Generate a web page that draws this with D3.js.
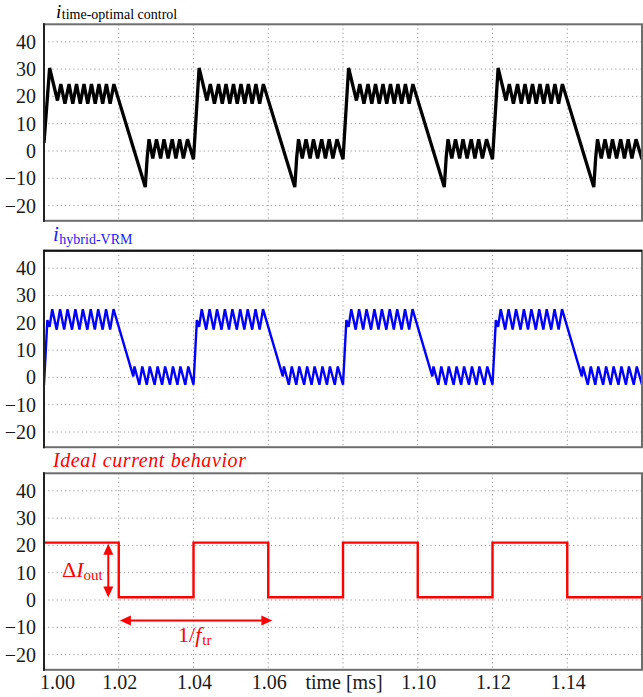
<!DOCTYPE html>
<html><head><meta charset="utf-8">
<script src="https://cdn.jsdelivr.net/npm/d3@7"></script>
<style>
html,body{margin:0;padding:0;background:#fff;}
svg{display:block;font-family:"Liberation Serif","Times New Roman",serif;}
</style></head>
<body>
<svg id="chart" width="643" height="697"></svg>
<script>
// ---------------- data ----------------
const xTicks = [1.00, 1.02, 1.04, 1.06, 1.08, 1.10, 1.12, 1.14];
const xTickLabels = ["1.00", "1.02", "1.04", "1.06", "time [ms]", "1.10", "1.12", "1.14"];
const yTicks = [-20, -10, 0, 10, 20, 30, 40];

// time-optimal control current (black)
const optT = [
1.0000,1.0015,1.0036,1.0045,1.0056,1.0067,1.0077,1.0087,1.0097,1.0107,1.0117,1.0127,1.0137,1.0147,1.0157,1.0167,1.0177,1.0187,1.0271,1.0276,1.0281,1.0291,1.0301,1.0312,1.0321,1.0332,1.0343,1.0353,1.0363,1.0373,1.0384,
1.0400,1.0415,1.0436,1.0445,1.0456,1.0467,1.0477,1.0487,1.0497,1.0507,1.0517,1.0527,1.0537,1.0547,1.0557,1.0567,1.0577,1.0587,1.0671,1.0676,1.0681,1.0691,1.0701,1.0712,1.0721,1.0732,1.0743,1.0753,1.0763,1.0773,1.0784,
1.0800,1.0815,1.0836,1.0845,1.0856,1.0867,1.0877,1.0887,1.0897,1.0907,1.0917,1.0927,1.0937,1.0947,1.0957,1.0967,1.0977,1.0987,1.1071,1.1076,1.1081,1.1091,1.1101,1.1112,1.1121,1.1132,1.1143,1.1153,1.1163,1.1173,1.1184,
1.1200,1.1215,1.1236,1.1245,1.1256,1.1267,1.1277,1.1287,1.1297,1.1307,1.1317,1.1327,1.1337,1.1347,1.1357,1.1367,1.1377,1.1387,1.1471,1.1476,1.1481,1.1491,1.1501,1.1512,1.1521,1.1532,1.1543,1.1553,1.1563,1.1573,1.1584,
1.1600];
const optI = [
3,30.4,18.5,24.5,17.3,24.5,17.3,24.5,17.3,24.5,17.3,24.5,17.3,24.5,17.3,24.5,17.3,24.5,-13.2,-2.5,4.3,-2.7,4.3,-2.7,4.3,-2.7,4.3,-2.7,4.3,-2.7,4.3,
-3,30.4,18.5,24.5,17.3,24.5,17.3,24.5,17.3,24.5,17.3,24.5,17.3,24.5,17.3,24.5,17.3,24.5,-13.2,-2.5,4.3,-2.7,4.3,-2.7,4.3,-2.7,4.3,-2.7,4.3,-2.7,4.3,
-3,30.4,18.5,24.5,17.3,24.5,17.3,24.5,17.3,24.5,17.3,24.5,17.3,24.5,17.3,24.5,17.3,24.5,-13.2,-2.5,4.3,-2.7,4.3,-2.7,4.3,-2.7,4.3,-2.7,4.3,-2.7,4.3,
-3,30.4,18.5,24.5,17.3,24.5,17.3,24.5,17.3,24.5,17.3,24.5,17.3,24.5,17.3,24.5,17.3,24.5,-13.2,-2.5,4.3,-2.7,4.3,-2.7,4.3,-2.7,4.3,-2.7,4.3,-2.7,4.3,
-3];

// hybrid-VRM current (blue)
const hybT = [
1.0000,1.0009,1.0015,1.0022,1.0034,1.0043,1.0054,1.0063,1.0075,1.0084,1.0095,1.0104,1.0116,1.0125,1.0136,1.0145,1.0157,1.0166,1.0177,1.0186,1.0239,1.0242,1.0255,1.0263,1.0275,1.0283,1.0296,1.0304,1.0316,1.0324,1.0337,1.0345,1.0357,1.0365,1.0378,1.0386,
1.0400,1.0409,1.0415,1.0422,1.0434,1.0443,1.0454,1.0463,1.0475,1.0484,1.0495,1.0504,1.0516,1.0525,1.0536,1.0545,1.0557,1.0566,1.0577,1.0586,1.0639,1.0642,1.0655,1.0663,1.0675,1.0683,1.0696,1.0704,1.0716,1.0724,1.0737,1.0745,1.0757,1.0765,1.0778,1.0786,
1.0800,1.0809,1.0815,1.0822,1.0834,1.0843,1.0854,1.0863,1.0875,1.0884,1.0895,1.0904,1.0916,1.0925,1.0936,1.0945,1.0957,1.0966,1.0977,1.0986,1.1039,1.1042,1.1055,1.1063,1.1075,1.1083,1.1096,1.1104,1.1116,1.1124,1.1137,1.1145,1.1157,1.1165,1.1178,1.1186,
1.1200,1.1209,1.1215,1.1222,1.1234,1.1243,1.1254,1.1263,1.1275,1.1284,1.1295,1.1304,1.1316,1.1325,1.1336,1.1345,1.1357,1.1366,1.1377,1.1386,1.1439,1.1442,1.1455,1.1463,1.1475,1.1483,1.1496,1.1504,1.1516,1.1524,1.1537,1.1545,1.1557,1.1565,1.1578,1.1586,
1.1600];
const hybI = [
-2.7,21,18.5,25,17.5,25,17.5,25,17.5,25,17.5,25,17.5,25,17.5,25,17.5,25,17.5,25,0.4,4,-2.7,4,-2.7,4,-2.7,4,-2.7,4,-2.7,4,-2.7,4,-2.7,4,
-2.7,21,18.5,25,17.5,25,17.5,25,17.5,25,17.5,25,17.5,25,17.5,25,17.5,25,17.5,25,0.4,4,-2.7,4,-2.7,4,-2.7,4,-2.7,4,-2.7,4,-2.7,4,-2.7,4,
-2.7,21,18.5,25,17.5,25,17.5,25,17.5,25,17.5,25,17.5,25,17.5,25,17.5,25,17.5,25,0.4,4,-2.7,4,-2.7,4,-2.7,4,-2.7,4,-2.7,4,-2.7,4,-2.7,4,
-2.7,21,18.5,25,17.5,25,17.5,25,17.5,25,17.5,25,17.5,25,17.5,25,17.5,25,17.5,25,0.4,4,-2.7,4,-2.7,4,-2.7,4,-2.7,4,-2.7,4,-2.7,4,-2.7,4,
-2.7];

// ideal current (red, step)
const idealT = [1.00, 1.02, 1.04, 1.06, 1.08, 1.10, 1.12, 1.14, 1.16];
const idealI = [21, 1, 21, 1, 21, 1, 21, 1, 1];

// annotations (data coordinates)
const deltaArrowT = 1.0172, deltaArrowFrom = 20.6, deltaArrowTo = 0.9;
const periodArrowI = -7.5, periodArrowFrom = 1.0203, periodArrowTo = 1.0611;

// ---------------- layout ----------------
const svg = d3.select("#chart");
const plotLeft = 44, plotRight = 642;
const panelTops = [24.3, 250.7, 473.3];
const y40Off = 17.5, yM20Off = 181.3, panelH = 196.5;
const serif = '"Liberation Serif","Times New Roman",serif';

const x = d3.scaleLinear().domain([1.00, 1.16]).range([plotLeft, plotRight]);

function makePanel(idx, opts) {
  const top = panelTops[idx];
  const y = d3.scaleLinear().domain([-20, 40]).range([top + yM20Off, top + y40Off]);
  const g = svg.append("g");
  const clipId = "clip" + idx;
  svg.append("clipPath").attr("id", clipId).append("rect")
    .attr("x", plotLeft).attr("y", top).attr("width", plotRight - plotLeft).attr("height", panelH);

  // grid
  g.append("g").selectAll("line").data(yTicks).join("line")
    .attr("x1", plotLeft).attr("x2", plotRight)
    .attr("y1", d => y(d)).attr("y2", d => y(d))
    .attr("stroke", "#9a9a9a").attr("stroke-width", 1).attr("stroke-dasharray", "1.2,3");
  g.append("g").selectAll("line").data(xTicks.slice(1)).join("line")
    .attr("x1", d => x(d)).attr("x2", d => x(d))
    .attr("y1", top).attr("y2", top + panelH)
    .attr("stroke", "#9a9a9a").attr("stroke-width", 1).attr("stroke-dasharray", "1.2,3");

  // y axis labels via d3 axis
  const yAxis = d3.axisLeft(y).tickValues(yTicks).tickSize(0).tickPadding(8).tickFormat(d3.format("d"));
  const ya = g.append("g").attr("transform", `translate(${plotLeft},0)`).call(yAxis);
  ya.attr("font-family", serif);
  ya.select(".domain").remove();
  ya.selectAll("text").attr("font-family", serif).attr("font-size", 20).attr("fill", "#1a1a1a");

  // series
  const line = d3.line().x(d => x(d[0])).y(d => y(d[1]));
  if (opts.curve) line.curve(opts.curve);
  g.append("path").datum(d3.zip(opts.t, opts.v))
    .attr("clip-path", `url(#${clipId})`)
    .attr("fill", "none").attr("stroke", opts.color).attr("stroke-width", opts.width)
    .attr("stroke-linejoin", "miter").attr("stroke-miterlimit", 3)
    .attr("d", line);

  // frame
  g.append("rect").attr("x", plotLeft).attr("y", top).attr("width", plotRight - plotLeft).attr("height", panelH)
    .attr("fill", "none").attr("stroke", "#6e6e6e").attr("stroke-width", 2);
  g.append("line").attr("x1", plotLeft).attr("x2", plotLeft).attr("y1", top - 1).attr("y2", top + panelH + 1)
    .attr("stroke", "#222").attr("stroke-width", 2);
  if (opts.blackTop) {
    g.append("line").attr("x1", plotLeft).attr("x2", plotRight).attr("y1", top).attr("y2", top)
      .attr("stroke", "#111").attr("stroke-width", 2);
  }
  return y;
}

makePanel(0, {t: optT, v: optI, color: "#000", width: 3.3});
makePanel(1, {t: hybT, v: hybI, color: "#0000ff", width: 2.4, blackTop: true});
const y3 = makePanel(2, {t: idealT, v: idealI, color: "#ff0000", width: 2.4, curve: d3.curveStepAfter});

// ---------------- titles ----------------
const t1 = svg.append("text").attr("x", 56).attr("y", 17.5).attr("font-family", serif).attr("fill", "#000");
t1.append("tspan").attr("font-style", "italic").attr("font-size", 19).text("i");
t1.append("tspan").attr("font-size", 14).attr("dy", 1.5).attr("dx", 0.5).text("time-optimal control");

const t2 = svg.append("text").attr("x", 53).attr("y", 241).attr("font-family", serif).attr("fill", "#1a1aff");
t2.append("tspan").attr("font-style", "italic").attr("font-size", 21).text("i");
t2.append("tspan").attr("font-size", 14).attr("dy", 2.5).attr("dx", 0.5).text("hybrid-VRM");

svg.append("text").attr("x", 53).attr("y", 467).attr("font-family", serif)
  .attr("font-style", "italic").attr("font-size", 20).attr("letter-spacing", 0.6)
  .attr("fill", "#ff0000").text("Ideal current behavior");

// ---------------- x axis labels ----------------
const xa = svg.append("g").attr("font-family", serif).attr("font-size", 20).attr("fill", "#1a1a1a");
xa.selectAll("text").data(xTicks).join("text")
  .attr("x", (d, i) => i === 0 ? x(d) - 4 : x(d) + 1)
  .attr("y", 689)
  .attr("text-anchor", (d, i) => i === 0 ? "start" : "middle")
  .text((d, i) => xTickLabels[i]);

// ---------------- annotations ----------------
const red = "#ff0000";
const ann = svg.append("g");
function arrowHead(px, py, dir) { // tip at px,py
  const L = 11, W = 5;
  let pts;
  if (dir === "up") pts = [[px, py], [px - W, py + L], [px + W, py + L]];
  if (dir === "down") pts = [[px, py], [px - W, py - L], [px + W, py - L]];
  if (dir === "left") pts = [[px, py], [px + L, py - W], [px + L, py + W]];
  if (dir === "right") pts = [[px, py], [px - L, py - W], [px - L, py + W]];
  ann.append("path").attr("d", "M" + pts.map(p => p.join(",")).join("L") + "Z").attr("fill", red);
}
const ax = x(deltaArrowT), ay1 = y3(deltaArrowFrom), ay2 = y3(deltaArrowTo);
ann.append("line").attr("x1", ax).attr("x2", ax).attr("y1", ay1 + 6).attr("y2", ay2 - 6)
  .attr("stroke", red).attr("stroke-width", 2);
arrowHead(ax, ay1, "up");
arrowHead(ax, ay2, "down");

const hy = y3(periodArrowI), hx1 = x(periodArrowFrom), hx2 = x(periodArrowTo);
ann.append("line").attr("x1", hx1 + 6).attr("x2", hx2 - 6).attr("y1", hy).attr("y2", hy)
  .attr("stroke", red).attr("stroke-width", 2);
arrowHead(hx1, hy, "left");
arrowHead(hx2, hy, "right");

const l1 = ann.append("text").attr("x", 62).attr("y", 577).attr("font-family", serif).attr("fill", red).attr("font-size", 22);
l1.append("tspan").text("\u0394");
l1.append("tspan").attr("font-style", "italic").text("I");
l1.append("tspan").attr("font-size", 15).attr("dy", 3).text("out");

const l2 = ann.append("text").attr("x", 178).attr("y", 642).attr("font-family", serif).attr("fill", red).attr("font-size", 22);
l2.append("tspan").text("1/");
l2.append("tspan").attr("font-style", "italic").text("f");
l2.append("tspan").attr("font-size", 15).attr("dy", 3).attr("dx", 1).text("tr");
</script>
</body></html>
